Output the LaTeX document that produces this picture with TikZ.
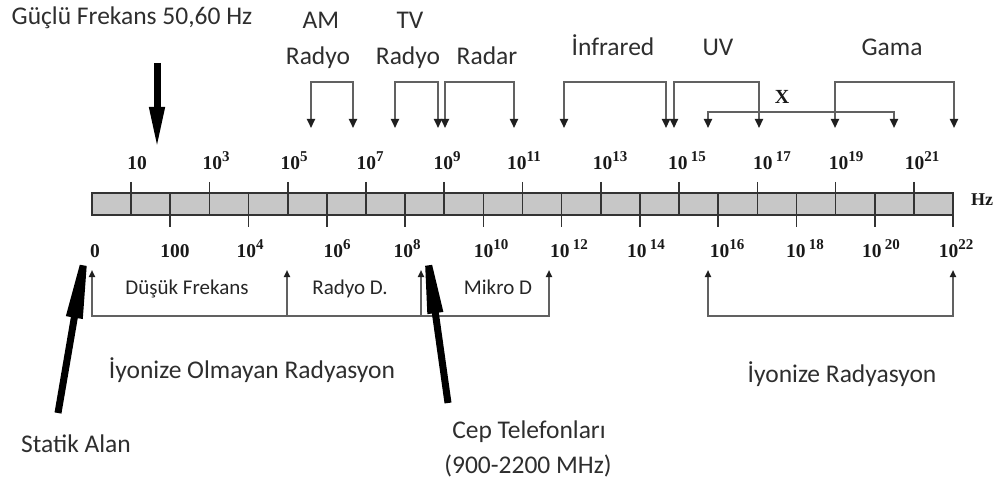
\documentclass[tikz,border=0pt]{standalone}
\usepackage{fontspec}
\setmainfont{Carlito}
\newfontfamily\tnr{Liberation Serif}
\usetikzlibrary{arrows.meta}
\newcommand\tpw[1]{10\raisebox{0.42em}{\fontsize{15}{15}\selectfont #1}}
\newcommand\tpws[1]{10\,\raisebox{0.42em}{\fontsize{15}{15}\selectfont #1}}
\begin{document}
\begin{tikzpicture}[x=1pt,y=-1pt,
  lbl/.style={font=\fontsize{25.5}{28}\selectfont, text=black!82, inner sep=0pt, anchor=base},
  slbl/.style={font=\fontsize{21}{24}\selectfont, text=black!85, inner sep=0pt, anchor=base},
  num/.style={font=\tnr\bfseries\fontsize{19.5}{22}\selectfont, text=black!90, inner sep=0pt, anchor=base},
  brk/.style={draw=black!62, line width=2pt, {Triangle[length=9pt,width=8pt,color=black!88]}-{Triangle[length=9pt,width=8pt,color=black!88]}},
  bbr/.style={draw=black!62, line width=2pt, {Triangle[length=7pt,width=6pt,color=black!88]}-{Triangle[length=7pt,width=6pt,color=black!88]}},
  bba/.style={draw=black!62, line width=2pt, -{Triangle[length=7pt,width=6pt,color=black!88]}},
  bigarrow/.style={draw=black, line width=7pt},
  tickline/.style={draw=black!80, line width=1.6pt}
]
\useasboundingbox (0,0) rectangle (1000,486);

% bar
\draw[line width=2pt, draw=black!80, fill=black!22] (92,193) rectangle (953,215);
\foreach \k in {1,...,21} \draw[tickline] ({92+39.14*\k},193) -- ({92+39.14*\k},215);
\foreach \k in {1,3,...,21} \draw[tickline] ({92+39.14*\k},182) -- ({92+39.14*\k},193);
\foreach \k in {2,4,...,22} \draw[tickline] ({92+39.14*\k},215) -- ({92+39.14*\k},227);

% top numbers
\foreach \x/\t in {137/10, 216/{\tpw{3}}, 294/{\tpw{5}}, 370/{\tpw{7}}, 447/{\tpw{9}}, 524/{\tpw{11}}, 610/{\tpw{13}}, 687/{\tpws{15}}, 772/{\tpws{17}}, 846/{\tpw{19}}, 922/{\tpw{21}}}
  \node[num] at (\x,170) {\t};
% bottom numbers
\foreach \x/\t in {95/0, 175/100, 250/{\tpw{4}}, 337/{\tpw{6}}, 407/{\tpw{8}}, 491/{\tpw{10}}, 569/{\tpws{12}}, 646/{\tpws{14}}, 727/{\tpw{16}}, 805/{\tpws{18}}, 881/{\tpws{20}}, 956/{\tpw{22}}}
  \node[num] at (\x,258) {\t};
\node[num, font=\tnr\bfseries\fontsize{18}{20}\selectfont] (hz) at (982,206) {Hz};

% top labels
\node[lbl] (guclu) at (132,25) {Güçlü Frekans 50,60 Hz};
\node[lbl] (am) at (321,29) {AM};
\node[lbl] (amr) at (318,65) {Radyo};
\node[lbl] (tv) at (410,29) {TV};
\node[lbl] (tvr) at (408,65) {Radyo};
\node[lbl] (radar) at (487,65) {Radar};
\node[lbl] (ir) at (613,56) {İnfrared};
\node[lbl] (uv) at (718,56) {UV};
\node[lbl] (gama) at (892,56) {Gama};
\node[num, font=\tnr\bfseries\fontsize{20}{22}\selectfont] (xray) at (782,104) {X};

% top brackets
\coordinate (amL) at (311,128); \coordinate (amR) at (353,128);
\coordinate (tvL) at (395,128); \coordinate (tvR) at (438,128);
\coordinate (raL) at (445,128); \coordinate (raR) at (514,128);
\coordinate (irL) at (564,128); \coordinate (irR) at (666,128);
\coordinate (uvL) at (674,128); \coordinate (uvR) at (759,128);
\coordinate (gaL) at (835,128); \coordinate (gaR) at (954,128);
\coordinate (xL) at (708,128); \coordinate (xR) at (894,128);
\draw[brk] (amL) -- ++(0,-46) -| (amR);
\draw[brk] (tvL) -- ++(0,-46) -| (tvR);
\draw[brk] (raL) -- ++(0,-46) -| (raR);
\draw[brk] (irL) -- ++(0,-46) -| (irR);
\draw[brk] (uvL) -- ++(0,-46) -| (uvR);
\draw[brk] (gaL) -- ++(0,-46) -| (gaR);
\draw[brk] (xL) -- ++(0,-16) -| (xR);

% bottom labels
\node[slbl] (dusuk) at (187,294) {Düşük Frekans};
\node[slbl] (radyod) at (350,294) {Radyo D.};
\node[slbl] (mikro) at (498,294) {Mikro D};
\node[lbl] (noni) at (252,378) {İyonize Olmayan Radyasyon};
\node[lbl] (ioni) at (842,382) {İyonize Radyasyon};
\node[lbl] (statik) at (76,452) {Statik Alan};
\node[lbl] (cep1) at (529,438) {Cep Telefonları};
\node[lbl] (cep2) at (528,473) {(900-2200 MHz)};

% bottom brackets
\coordinate (n0) at (92,270); \coordinate (n1) at (287,270);
\coordinate (n2) at (421,270); \coordinate (n3) at (549,270);
\coordinate (i0) at (708,270); \coordinate (i1) at (953,270);
\draw[bbr] (n0) -- ++(0,46) -| (n3);
\draw[bba] ([yshift=-46pt]n1) -- (n1);
\draw[bba] ([yshift=-46pt]n2) -- (n2);
\draw[bbr] (i0) -- ++(0,46) -| (i1);

% big arrows
\coordinate (gT) at (157,63); \coordinate (gH) at (157,150);
\coordinate (sT) at (58,413); \coordinate (sH) at (91,220);
\coordinate (cT) at (448,403); \coordinate (cH) at (422,218);
\draw[bigarrow, -{Triangle[length=43pt,width=14pt]}] (gT) -- (gH);
\draw[bigarrow, -{Triangle[length=99pt,width=15pt]}] (sT) -- (sH);
\draw[bigarrow, -{Triangle[length=96pt,width=14pt]}] (cT) -- (cH);
\end{tikzpicture}
\end{document}
